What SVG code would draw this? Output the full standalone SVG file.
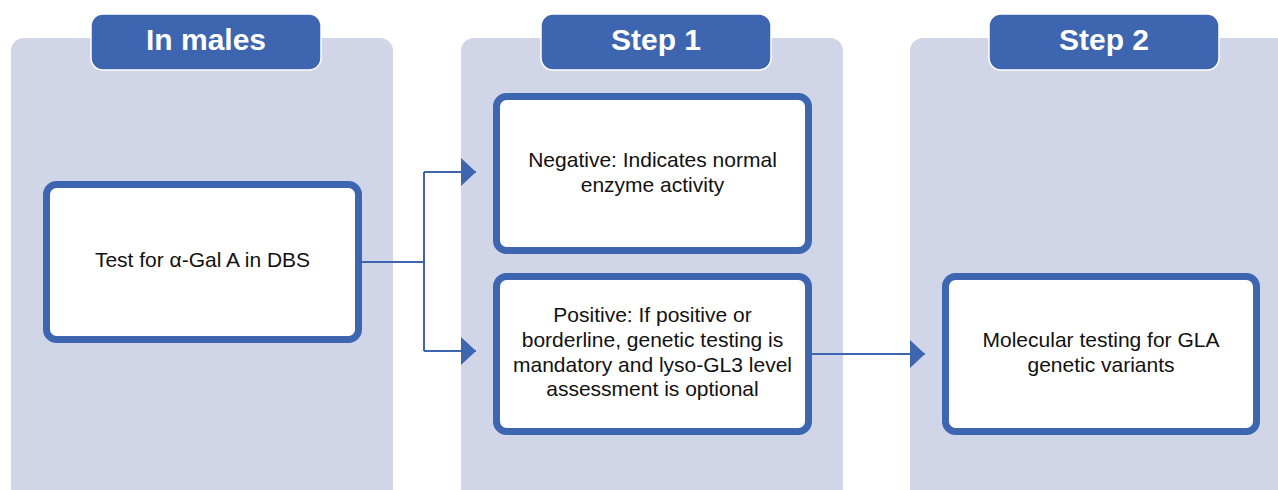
<svg xmlns="http://www.w3.org/2000/svg" width="1278" height="490" viewBox="0 0 1278 490">
<style>
.panel{fill:#D0D5E8}
.head{fill:#3D65B0;stroke:#FFFFFF;stroke-width:1.5}
.headtxt{font-family:"Liberation Sans",Arial,sans-serif;font-weight:bold;font-size:30px;fill:#FFFFFF;text-anchor:middle}
.node{fill:#FFFFFF;stroke:#3D65B0;stroke-width:7}
.txt{font-family:"Liberation Sans",Arial,sans-serif;font-size:21px;fill:#111111;text-anchor:middle}
.conn{fill:none;stroke:#3D65B0;stroke-width:2}
</style>
<defs>
<marker id="arr" markerWidth="15" markerHeight="28" refX="15" refY="14" orient="auto" markerUnits="userSpaceOnUse">
<path d="M0,0 L15,14 L0,28 Z" fill="#3D65B0"/>
</marker>
</defs>
<g id="panels">
<rect class="panel" x="11" y="38" width="382" height="470" rx="13"/>
<rect class="panel" x="461" y="38" width="382" height="470" rx="13"/>
<rect class="panel" x="910" y="38" width="400" height="470" rx="13"/>
</g>
<g id="header-males">
<rect class="head" x="91" y="14" width="230" height="56" rx="12"/>
<text class="headtxt" x="206" y="50">In males</text>
</g>
<g id="header-step1">
<rect class="head" x="541" y="14" width="230" height="56" rx="12"/>
<text class="headtxt" x="656" y="50">Step 1</text>
</g>
<g id="header-step2">
<rect class="head" x="989" y="14" width="230" height="56" rx="12"/>
<text class="headtxt" x="1104" y="50">Step 2</text>
</g>
<g id="connectors">
<polyline class="conn" points="362,262 424,262"/>
<polyline class="conn" points="424,172 424,351"/>
<polyline class="conn" points="424,172 476,172" marker-end="url(#arr)"/>
<polyline class="conn" points="424,351 476,351" marker-end="url(#arr)"/>
<polyline class="conn" points="812,354 925,354" marker-end="url(#arr)"/>
</g>
<g id="node-test">
<rect class="node" x="46.5" y="184.5" width="312" height="155" rx="10"/>
<text class="txt" x="202.5" y="267">Test for α-Gal A in DBS</text>
</g>
<g id="node-negative">
<rect class="node" x="496.5" y="96.5" width="312" height="154" rx="10"/>
<text class="txt" x="652.5" y="167">Negative: Indicates normal</text>
<text class="txt" x="652.5" y="192">enzyme activity</text>
</g>
<g id="node-positive">
<rect class="node" x="496.5" y="276.5" width="312" height="155" rx="10"/>
<text class="txt" x="652.5" y="322">Positive: If positive or</text>
<text class="txt" x="652.5" y="347">borderline, genetic testing is</text>
<text class="txt" x="652.5" y="372">mandatory and lyso-GL3 level</text>
<text class="txt" x="652.5" y="396">assessment is optional</text>
</g>
<g id="node-molecular">
<rect class="node" x="945.5" y="276.5" width="311" height="155" rx="10"/>
<text class="txt" x="1101" y="347">Molecular testing for GLA</text>
<text class="txt" x="1101" y="372">genetic variants</text>
</g>
</svg>
